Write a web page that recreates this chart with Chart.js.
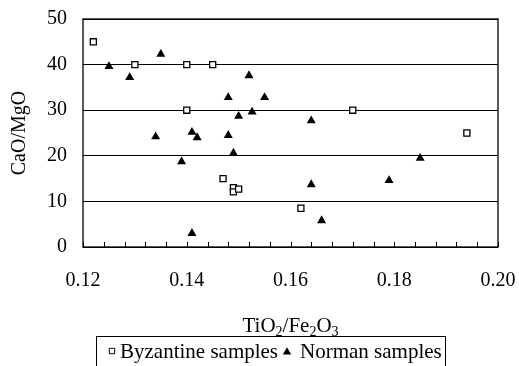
<!DOCTYPE html>
<html>
<head>
<meta charset="utf-8">
<script src="https://cdn.jsdelivr.net/npm/chart.js@4.4.0/dist/chart.umd.min.js"></script>
<style>
  html, body { margin: 0; padding: 0; background: #fff; }
  canvas { display: block; }
</style>
</head>
<body>
<canvas id="chart" width="519" height="366"></canvas>
<script>
// data
const byzX = [0.122, 0.130, 0.140, 0.145, 0.140, 0.172, 0.194, 0.147, 0.149, 0.149, 0.150, 0.162];
const byzY = [45.0, 40.0, 40.0, 40.0, 30.0, 30.0, 25.0, 15.0, 13.0, 12.1, 12.7, 8.5];

const norX = [0.125, 0.129, 0.135, 0.152, 0.148, 0.155, 0.150, 0.1526, 0.164, 0.134, 0.141, 0.142, 0.148, 0.149, 0.139, 0.141, 0.185, 0.179, 0.164, 0.166];
const norY = [39.6, 37.2, 42.3, 37.6, 32.8, 32.8, 28.7, 29.6, 27.7, 24.2, 25.2, 24.0, 24.5, 20.6, 18.7, 3.0, 19.5, 14.6, 13.7, 5.8];

const yTicks = [0, 10, 20, 30, 40, 50];
const xLabels = ['0.12', '0.14', '0.16', '0.18', '0.20'];
const seriesNames = ['Byzantine samples', 'Norman samples'];

const FONT = 'Liberation Serif';

const toPoints = function(xs, ys){
    return xs.map(function(x, i){ return {x: x, y: ys[i]}; });
};

// frame + minor ticks inside the plot + x title with subscripts + boxed legend
const extras = {
    id: 'extras',
    afterDraw: function(chart){
        const ctx = chart.ctx;
        const a = chart.chartArea;
        const xs = chart.scales.x;
        ctx.save();
        ctx.strokeStyle = '#000';
        ctx.lineWidth = 1.3;
        ctx.strokeRect(a.left, a.top, a.right - a.left, a.bottom - a.top);

        ctx.lineWidth = 1;
        xs.ticks.forEach(function(t){
            const px = Math.round(xs.getPixelForValue(t.value)) + 0.5;
            ctx.beginPath();
            ctx.moveTo(px, a.bottom);
            ctx.lineTo(px, a.bottom - 5);
            ctx.stroke();
        });

        // axis title TiO2/Fe2O3
        const parts = [['TiO', false], ['2', true], ['/Fe', false], ['2', true], ['O', false], ['3', true]];
        const big = '21px "' + FONT + '"';
        const small = '14px "' + FONT + '"';
        let w = 0;
        parts.forEach(function(p){
            ctx.font = p[1] ? small : big;
            w += ctx.measureText(p[0]).width;
        });
        let x = (a.left + a.right) / 2 - w / 2;
        const base = 332;
        ctx.fillStyle = '#000';
        ctx.textBaseline = 'alphabetic';
        ctx.textAlign = 'left';
        parts.forEach(function(p){
            ctx.font = p[1] ? small : big;
            ctx.fillText(p[0], x, p[1] ? base + 4 : base);
            x += ctx.measureText(p[0]).width;
        });

        // legend
        ctx.lineWidth = 1;
        ctx.strokeStyle = '#000';
        ctx.strokeRect(96.5, 336.5, 349, 40);
        const ds = chart.data.datasets;
        const ly = 351;
        const markerX = [112, 287];
        const textX = [120, 300];
        ctx.font = big;
        ctx.textBaseline = 'middle';
        ds.forEach(function(d, i){
            ctx.fillStyle = d.backgroundColor;
            ctx.strokeStyle = d.borderColor;
            Chart.helpers.drawPoint(ctx, {
                pointStyle: d.pointStyle,
                radius: d.legendRadius,
                borderWidth: d.pointStyle === 'rect' ? 1.2 : 0,
                rotation: 0
            }, markerX[i], ly + (d.pointStyle === 'triangle' ? 1 : 0));
            ctx.fillStyle = '#000';
            ctx.fillText(d.label, textX[i], ly + 1);
        });
        ctx.restore();
    }
};

const ctx = document.getElementById('chart').getContext('2d');
const chart = new Chart(ctx, {
    type: 'scatter',
    data: {
        datasets: [
            {
                label: seriesNames[0],
                data: toPoints(byzX, byzY),
                pointStyle: 'rect',
                pointRadius: 4.3,
                legendRadius: 3.8,
                backgroundColor: '#fff',
                borderColor: '#000',
                borderWidth: 1.3
            },
            {
                label: seriesNames[1],
                data: toPoints(norX, norY),
                pointStyle: 'triangle',
                pointRadius: 5.2,
                legendRadius: 4.8,
                backgroundColor: '#000',
                borderColor: '#000',
                borderWidth: 0
            }
        ]
    },
    options: {
        responsive: false,
        animation: false,
        devicePixelRatio: 1,
        layout: { padding: { top: 19, right: 21, left: 0, bottom: 0 } },
        plugins: {
            legend: { display: false },
            tooltip: { enabled: false }
        },
        scales: {
            x: {
                type: 'linear',
                min: 0.12,
                max: 0.20,
                border: { display: false },
                grid: { display: false, drawTicks: false },
                ticks: {
                    stepSize: 0.004,
                    autoSkip: false,
                    maxRotation: 0,
                    padding: 22,
                    color: '#000',
                    font: { family: FONT, size: 20 },
                    callback: function(v){
                        const k = Math.round(v * 1000);
                        if (k % 20 !== 0) return '';
                        return xLabels[(k - 120) / 20];
                    }
                },
                afterFit: function(scale){
                    scale.height = 119;
                    scale.paddingLeft = 0;
                    scale.paddingRight = 0;
                }
            },
            y: {
                min: yTicks[0],
                max: yTicks[yTicks.length - 1],
                border: { display: false },
                grid: { color: '#000', lineWidth: 1, drawTicks: false },
                ticks: {
                    stepSize: 10,
                    padding: 16,
                    color: '#000',
                    font: { family: FONT, size: 20 }
                },
                title: {
                    display: true,
                    text: 'CaO/MgO',
                    color: '#000',
                    font: { family: FONT, size: 20 },
                    padding: { top: 8, bottom: 0 }
                },
                afterFit: function(scale){
                    scale.width = 83;
                    scale.paddingTop = 0;
                    scale.paddingBottom = 0;
                }
            }
        }
    },
    plugins: [extras]
});
</script>
</body>
</html>
